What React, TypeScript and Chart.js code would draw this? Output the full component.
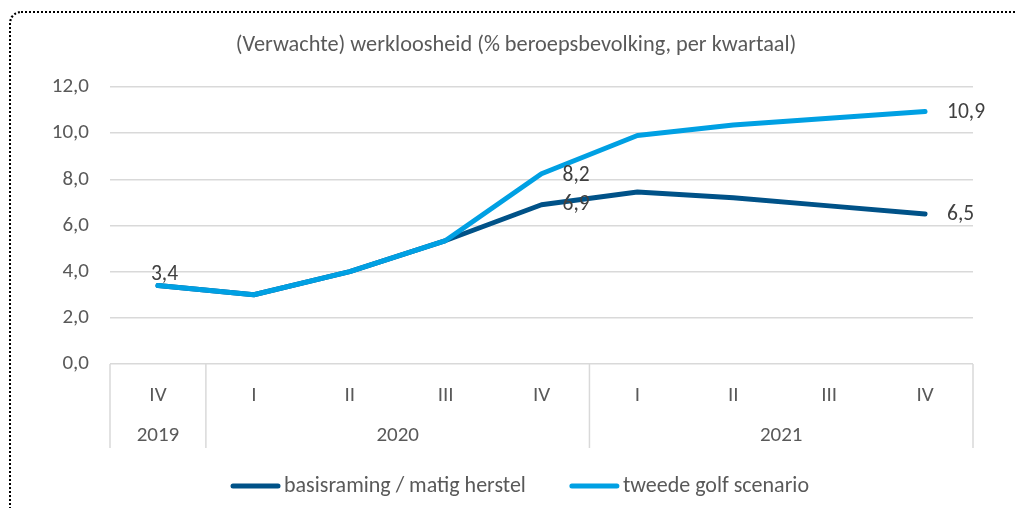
import React, { useEffect, useRef } from "react";
import { Chart, registerables } from "chart.js";

Chart.register(...registerables);

const quarters = ["IV", "I", "II", "III", "IV", "I", "II", "III", "IV"];
const years = ["2019", "2020", "2020", "2020", "2020", "2021", "2021", "2021", "2021"];
const basisraming = [3.4, 3.0, 4.0, 5.35, 6.9, 7.45, 7.2, 6.85, 6.5];
const tweedeGolf = [3.4, 3.0, 4.0, 5.35, 8.24, 9.9, 10.35, 10.65, 10.94];
const seriesNames = ["basisraming / matig herstel", "tweede golf scenario"];
const titleText = "(Verwachte) werkloosheid (% beroepsbevolking, per kwartaal)";

const DARK = "#005288";
const LIGHT = "#00a0e3";
const TEXT = "#595959";
const FONT = "Carlito, Lato, 'Open Sans', sans-serif";

const fmt = (v: number) => v.toFixed(1).replace(".", ",");

// label annotations: dataset index, point index, offsets
const valueLabels = [
  { ds: 0, i: 0, dx: -7, dy: -11 },
  { ds: 0, i: 4, dx: 21, dy: 0 },
  { ds: 1, i: 4, dx: 21, dy: 2 },
  { ds: 0, i: 8, dx: 22, dy: 1 },
  { ds: 1, i: 8, dx: 22, dy: 1 },
];

const extrasPlugin = {
  id: "extras",
  afterDraw(chart: any) {
    const ctx = chart.ctx;
    const area = chart.chartArea;
    const x = chart.scales.x;
    ctx.save();
    // title
    ctx.fillStyle = TEXT;
    ctx.font = `22.3px ${FONT}`;
    ctx.textAlign = "center";
    ctx.textBaseline = "middle";
    ctx.fillText(titleText, 516, 45);

    // year group box
    const boxBottom = area.bottom + 84;
    ctx.strokeStyle = "#d9d9d9";
    ctx.lineWidth = 1.5;
    const bounds: number[] = [area.left];
    for (let i = 0; i < years.length - 1; i++) {
      if (years[i] !== years[i + 1]) {
        bounds.push((x.getPixelForValue(i) + x.getPixelForValue(i + 1)) / 2);
      }
    }
    bounds.push(area.right);
    bounds.forEach((b) => {
      ctx.beginPath();
      ctx.moveTo(b, area.bottom);
      ctx.lineTo(b, boxBottom);
      ctx.stroke();
    });
    // year labels
    ctx.font = `21px ${FONT}`;
    ctx.fillStyle = TEXT;
    let start = 0;
    for (let i = 0; i < years.length; i++) {
      if (i === years.length - 1 || years[i] !== years[i + 1]) {
        const cx = (x.getPixelForValue(start) + x.getPixelForValue(i)) / 2;
        ctx.fillText(years[i], cx, area.bottom + 72);
        start = i + 1;
      }
    }

    // value labels
    ctx.font = `21.5px ${FONT}`;
    ctx.fillStyle = "#404040";
    ctx.textAlign = "left";
    valueLabels.forEach((l) => {
      const meta = chart.getDatasetMeta(l.ds);
      const pt = meta.data[l.i];
      const v = chart.data.datasets[l.ds].data[l.i];
      ctx.fillText(fmt(v), pt.x + l.dx, pt.y + l.dy);
    });

    // legend
    const ly = 486;
    ctx.font = `22px ${FONT}`;
    ctx.lineCap = "round";
    ctx.lineWidth = 5;
    const widths = chart.data.datasets.map((d: any) => ctx.measureText(d.label).width);
    const sample = 49;
    const gapText = 4;
    const gapItems = 44;
    const total =
      widths.reduce((a: number, b: number) => a + b, 0) +
      chart.data.datasets.length * (sample + gapText) +
      gapItems * (chart.data.datasets.length - 1);
    let lx = 520 - total / 2;
    chart.data.datasets.forEach((d: any, k: number) => {
      ctx.strokeStyle = d.borderColor;
      ctx.beginPath();
      ctx.moveTo(lx + 2, ly);
      ctx.lineTo(lx + sample - 2, ly);
      ctx.stroke();
      ctx.fillStyle = TEXT;
      ctx.fillText(d.label, lx + sample + gapText, ly);
      lx += sample + gapText + widths[k] + gapItems;
    });
    ctx.restore();
  },
};

export default function App() {
  const ref = useRef<HTMLCanvasElement>(null);
  useEffect(() => {
    const chart = new Chart(ref.current!, {
      type: "line",
      data: {
        labels: quarters,
        datasets: [
          {
            label: seriesNames[0],
            data: basisraming,
            borderColor: DARK,
            backgroundColor: DARK,
            borderWidth: 5,
            pointRadius: 0,
            borderCapStyle: "round",
            borderJoinStyle: "round",
            tension: 0,
            order: 1,
          },
          {
            label: seriesNames[1],
            data: tweedeGolf,
            borderColor: LIGHT,
            backgroundColor: LIGHT,
            borderWidth: 5,
            pointRadius: 0,
            borderCapStyle: "round",
            borderJoinStyle: "round",
            tension: 0,
            order: 0,
          },
        ],
      },
      options: {
        responsive: false,
        animation: false,
        layout: { padding: { left: 10, right: 43, top: 87, bottom: 60 } },
        plugins: {
          legend: { display: false },
          title: { display: false },
          tooltip: { enabled: false },
        },
        scales: {
          x: {
            offset: true,
            grid: { display: false },
            border: { display: false },
            ticks: {
              color: TEXT,
              font: { family: FONT, size: 21 },
              padding: 11,
              maxRotation: 0,
            },
            afterFit: (s: any) => {
              s.height = 84;
            },
          },
          y: {
            min: 0,
            max: 12,
            grid: { color: "#d9d9d9", lineWidth: 1.5, drawTicks: false },
            border: { display: false },
            ticks: {
              stepSize: 2,
              color: TEXT,
              font: { family: FONT, size: 21 },
              padding: 21,
              callback: (v: any) => fmt(Number(v)),
            },
            afterFit: (s: any) => {
              s.width = 100;
            },
          },
        },
      },
      plugins: [extrasPlugin],
    });
    return () => chart.destroy();
  }, []);

  return (
    <div
      style={{
        position: "fixed",
        left: 0,
        top: 0,
        width: 1016,
        height: 508,
        overflow: "hidden",
        background: "#fff",
      }}
    >
      <div
        style={{
          position: "absolute",
          left: 9,
          top: 11,
          width: 1100,
          height: 600,
          border: "2px dotted #000",
          borderTopLeftRadius: 12,
        }}
      />
      <canvas
        ref={ref}
        width={1016}
        height={508}
        style={{ position: "absolute", left: 0, top: 0, width: 1016, height: 508 }}
      />
    </div>
  );
}
